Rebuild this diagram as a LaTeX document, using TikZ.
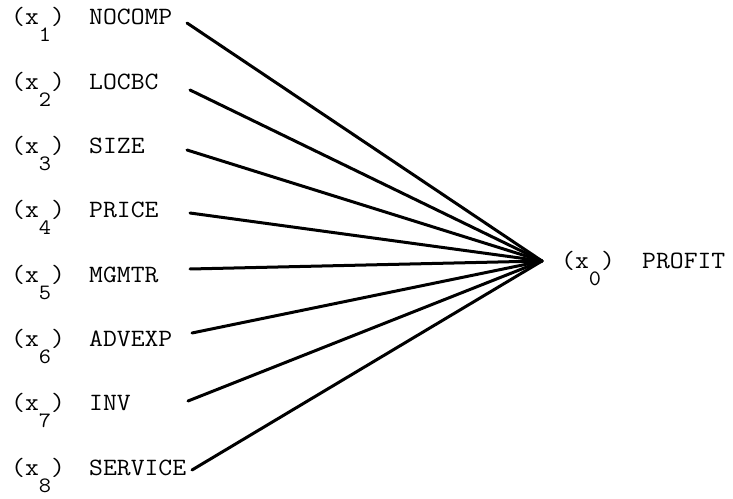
\documentclass[tikz,border=0pt]{standalone}
\usepackage{fontspec}
\usepackage{graphicx}
\newcommand\sbx[1]{\raisebox{-17bp}{\fontsize{22}{22}\selectfont #1}}
\newcommand\wide[1]{\scalebox{1.08}[1]{#1}}
\begin{document}
\begin{tikzpicture}[x=1bp,y=-1bp,
  lbl/.style={inner sep=0pt, anchor=base west, font=\ttfamily\fontsize{25}{25}\selectfont\addfontfeatures{FakeBold=0.6}},
  conn/.style={line width=3bp, line cap=round, line join=round}]
\useasboundingbox (0,0) rectangle (733,499);
% index labels
\node[lbl] (i1) at (11,25) {\wide{(x\sbx{1})}};
\node[lbl] (i2) at (11,89.3) {\wide{(x\sbx{2})}};
\node[lbl] (i3) at (11,153.6) {\wide{(x\sbx{3})}};
\node[lbl] (i4) at (11,217.9) {\wide{(x\sbx{4})}};
\node[lbl] (i5) at (11,282.2) {\wide{(x\sbx{5})}};
\node[lbl] (i6) at (11,346.5) {\wide{(x\sbx{6})}};
\node[lbl] (i7) at (11,410.8) {\wide{(x\sbx{7})}};
\node[lbl] (i8) at (11,475.1) {\wide{(x\sbx{8})}};
% variable names
\node[lbl] (n1) at (89,25) {\wide{NOCOMP}};
\node[lbl] (n2) at (89,89.3) {\wide{LOCBC}};
\node[lbl] (n3) at (89,153.6) {\wide{SIZE}};
\node[lbl] (n4) at (89,217.9) {\wide{PRICE}};
\node[lbl] (n5) at (89,282.2) {\wide{MGMTR}};
\node[lbl] (n6) at (89,346.5) {\wide{ADVEXP}};
\node[lbl] (n7) at (89,410.8) {\wide{INV}};
\node[lbl] (n8) at (89,475.1) {\wide{SERVICE}};
% target
\node[lbl] (i0) at (561,269) {\wide{(x\sbx{0})}};
\node[lbl] (n0) at (642,269) {\wide{PROFIT}};
% connector ends
\coordinate (s1) at (187,23);
\coordinate (s2) at (190,90);
\coordinate (s3) at (187,150);
\coordinate (s4) at (190,213);
\coordinate (s5) at (190,269);
\coordinate (s6) at (192,333);
\coordinate (s7) at (188,401);
\coordinate (s8) at (192,470);
\coordinate (hub) at (542,261);
\foreach \k in {1,...,8} \draw[conn] (s\k) -- (hub);
\end{tikzpicture}
\end{document}
